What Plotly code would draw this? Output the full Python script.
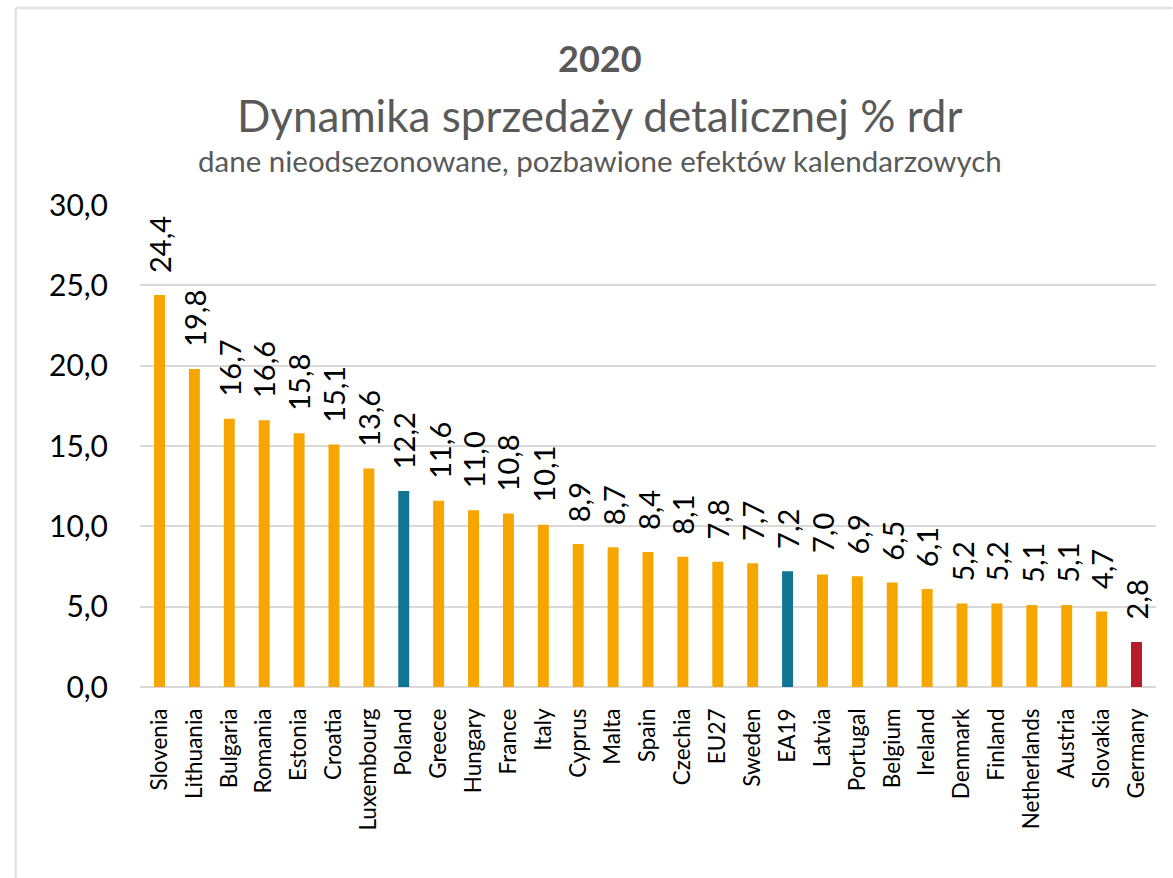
import plotly.graph_objects as go

# Retail sales growth 2020, % y/y
countries = ["Slovenia", "Lithuania", "Bulgaria", "Romania", "Estonia", "Croatia",
             "Luxembourg", "Poland", "Greece", "Hungary", "France", "Italy", "Cyprus",
             "Malta", "Spain", "Czechia", "EU27", "Sweden", "EA19", "Latvia", "Portugal",
             "Belgium", "Ireland", "Denmark", "Finland", "Netherlands", "Austria",
             "Slovakia", "Germany"]
values = [24.4, 19.8, 16.7, 16.6, 15.8, 15.1, 13.6, 12.2, 11.6, 11.0, 10.8, 10.1, 8.9,
          8.7, 8.4, 8.1, 7.8, 7.7, 7.2, 7.0, 6.9, 6.5, 6.1, 5.2, 5.2, 5.1, 5.1, 4.7, 2.8]
y_ticks = [0, 5, 10, 15, 20, 25, 30]

ORANGE = "#F7A600"
TEAL = "#107593"
RED = "#B71C2C"
highlight = {"Poland": TEAL, "EA19": TEAL, "Germany": RED}
colors = [highlight.get(c, ORANGE) for c in countries]

W, H = 1173, 878
L, R, T, B = 139.5, 1156.5, 205, 687  # plot area in pixels
pw, ph = R - L, B - T


def px_x(x):
    return (x - L) / pw


def px_y(y):
    return (B - y) / ph


def fmt(v):
    return f"{v:.1f}".replace(".", ",")


FONT = "Lato"

fig = go.Figure(go.Bar(
    x=countries, y=values, marker=dict(color=colors, line=dict(width=0)),
    hoverinfo="x+y",
))

annotations = [
    dict(x=c, y=v, xref="x", yref="y", text=fmt(v), textangle=-90,
         showarrow=False, yanchor="bottom", yshift=20,
         font=dict(family=FONT, size=29, color="#000000"))
    for c, v in zip(countries, values)
]

cx = px_x(600)
annotations += [
    dict(x=cx, y=px_y(58), xref="paper", yref="paper", text="<b>2020</b>",
         showarrow=False, xanchor="center", yanchor="middle",
         font=dict(family=FONT, size=36, color="#595959")),
    dict(x=cx, y=px_y(115), xref="paper", yref="paper",
         text="Dynamika sprzedaży detalicznej % rdr",
         showarrow=False, xanchor="center", yanchor="middle",
         font=dict(family=FONT, size=44, color="#595959")),
    dict(x=cx, y=px_y(160), xref="paper", yref="paper",
         text="dane nieodsezonowane, pozbawione efektów kalendarzowych",
         showarrow=False, xanchor="center", yanchor="middle",
         font=dict(family=FONT, size=29.5, color="#595959")),
]

border = "#E3E3E3"
shapes = [
    dict(type="line", xref="paper", yref="paper", x0=px_x(15), x1=px_x(15),
         y0=px_y(8), y1=px_y(H), line=dict(color=border, width=2.5)),
    dict(type="line", xref="paper", yref="paper", x0=px_x(15), x1=px_x(W),
         y0=px_y(8), y1=px_y(8), line=dict(color=border, width=2.5)),
]

fig.update_layout(
    width=W, height=H,
    margin=dict(l=L, r=W - R, t=T, b=H - B, pad=0),
    paper_bgcolor="white", plot_bgcolor="white",
    separators=", ",
    bargap=0.686,
    showlegend=False,
    annotations=annotations,
    shapes=shapes,
    xaxis=dict(
        tickangle=-90, tickfont=dict(family=FONT, size=22.5, color="#000000"),
        showgrid=False, showline=False, ticks="", ticklabelstandoff=16,
    ),
    yaxis=dict(
        range=[0, 30], tickvals=y_ticks, tickformat=".1f",
        tickfont=dict(family=FONT, size=30, color="#000000"),
        showgrid=True, gridcolor="#D9D9D9", gridwidth=1.5,
        zeroline=True, zerolinecolor="#D9D9D9", zerolinewidth=1.5,
        showline=False, ticks="", ticklabelstandoff=31,
    ),
)

fig.write_html("out.html")
